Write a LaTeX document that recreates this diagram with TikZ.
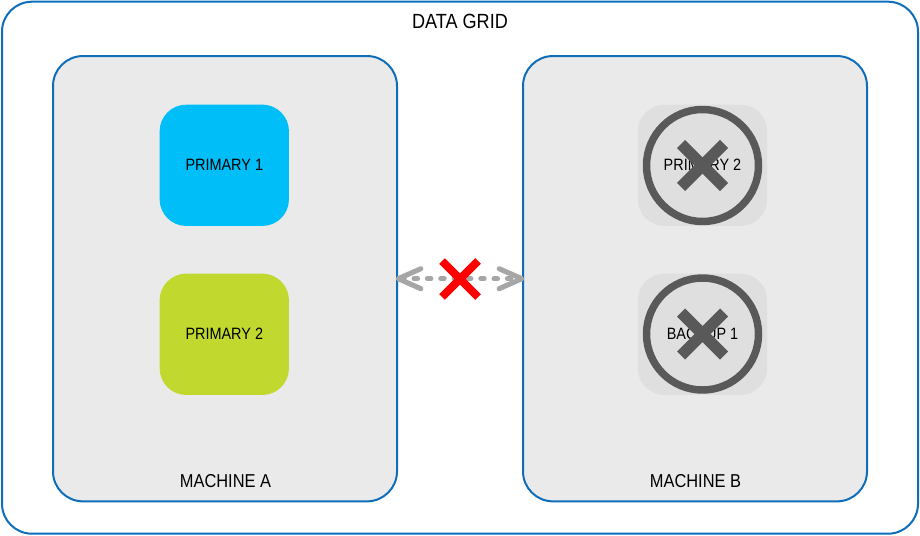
\documentclass[tikz,border=0pt]{standalone}
\usepackage{fontspec}
\setmainfont[FakeStretch=0.88]{Liberation Sans}
\usetikzlibrary{arrows.meta}
\definecolor{gridblue}{HTML}{0F6EB9}
\definecolor{panelgray}{HTML}{EAEAEA}
\definecolor{fadegray}{HTML}{DFDFDF}
\definecolor{markgray}{HTML}{595959}
\definecolor{linkgray}{HTML}{A6A6A6}
\definecolor{skyfill}{HTML}{00BEF7}
\definecolor{limefill}{HTML}{C1D82F}
\tikzset{
  x=0.75pt,y=-0.75pt,
  framebox/.style={draw=gridblue,line width=1.5pt,rectangle,rounded corners=22.5pt,outer sep=0pt,inner sep=0pt},
  panelbox/.style={framebox,fill=panelgray,minimum width=258pt,minimum height=334pt},
  tilebox/.style={rectangle,rounded corners=20pt,outer sep=0pt,inner sep=0pt,minimum width=97pt,minimum height=91pt,font=\fontsize{12.3}{14}\selectfont,text=black,text depth=1pt},
  titletext/.style={inner sep=0pt,text=black,font=\fontsize{15.4}{18}\selectfont},
  machinetext/.style={inner sep=0pt,text=black,font=\fontsize{14}{16}\selectfont},
  banring/.style={draw=markgray,line width=5.6pt,circle,minimum size=84pt,inner sep=0pt,outer sep=0pt},
  banbar/.style={draw=markgray,line width=8.5pt,line cap=butt},
  redbar/.style={draw=red,line width=6pt,line cap=butt},
  linkline/.style={draw=linkgray,line width=3.8pt,line cap=round,dash pattern=on 2.6pt off 7.4pt,shorten <=-1pt,shorten >=-1pt,
    {Straight Barb[round,length=17pt,width=15pt]}-{Straight Barb[round,length=17pt,width=15pt]}}
}
\begin{document}
\begin{tikzpicture}
\useasboundingbox (0,0) rectangle (920,535);
\fill[white] (0,0) rectangle (920,535);
\node[framebox,minimum width=687pt,minimum height=399pt] (grid) at (460,267.7) {};
\node[titletext] (gridlabel) at (460,21.7) {DATA GRID};
\node[panelbox] (machA) at (225,278.7) {};
\node[panelbox] (machB) at (695,278.7) {};
\node[machinetext] (labelA) at (225.5,481) {MACHINE A};
\node[machinetext] (labelB) at (695.5,481) {MACHINE B};
\node[tilebox,fill=skyfill] (p1) at (224.3,165.3) {PRIMARY 1};
\node[tilebox,fill=limefill] (p2) at (224.3,334.3) {PRIMARY 2};
\node[tilebox,fill=fadegray] (r2) at (702.5,165.3) {PRIMARY 2};
\node[tilebox,fill=fadegray] (b1) at (702.5,334.3) {BACKUP 1};
\node[banring] (ringA) at (702.5,165.5) {};
\node[banring] (ringB) at (702.5,334) {};
\draw[banbar] ([shift={(-21.5,-21.5)}]ringA.center) -- ([shift={(21.5,21.5)}]ringA.center);
\draw[banbar] ([shift={(21.5,-21.5)}]ringA.center) -- ([shift={(-21.5,21.5)}]ringA.center);
\draw[banbar] ([shift={(-21.5,-21.5)}]ringB.center) -- ([shift={(21.5,21.5)}]ringB.center);
\draw[banbar] ([shift={(21.5,-21.5)}]ringB.center) -- ([shift={(-21.5,21.5)}]ringB.center);
\draw[linkline] (machA.east) -- (machB.west);
\coordinate (mid) at (460,279);
\draw[redbar] ([shift={(-18,-18)}]mid) -- ([shift={(18,18)}]mid);
\draw[redbar] ([shift={(18,-18)}]mid) -- ([shift={(-18,18)}]mid);
\end{tikzpicture}
\end{document}
